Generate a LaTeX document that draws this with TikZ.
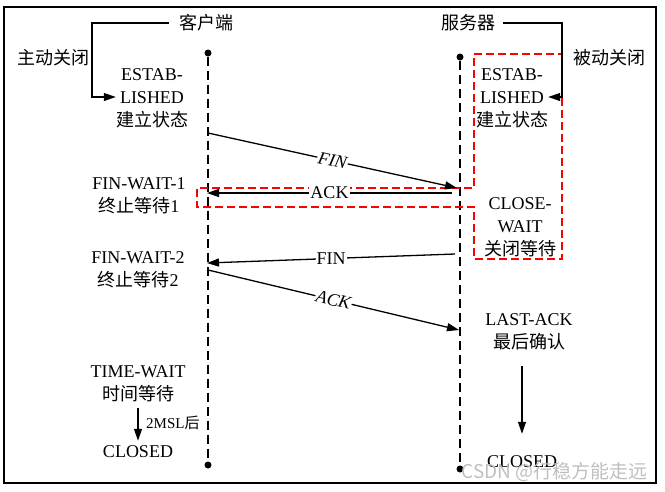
\documentclass[tikz,border=0pt]{standalone}
\usepackage{fontspec}
\setmainfont{Liberation Serif}
\newfontfamily\cjk{Noto Sans CJK SC}
\newcommand{\zh}[1]{{\cjk #1}}
\usetikzlibrary{arrows.meta}

\begin{document}
\begin{tikzpicture}[x=1pt, y=-1pt,
        state/.style={align=center, inner sep=0pt, font=\fontsize{18}{23}\selectfont},
        life/.style={dash pattern=on 9pt off 5pt, line width=1.1pt},
        dot/.style={circle, fill, inner sep=0pt, minimum size=7pt},
        msg/.style={-{Triangle[length=12pt,width=8pt]}, line width=1.3pt},
        lbl/.style={fill=white, inner xsep=1pt, inner ysep=0pt, font=\fontsize{18}{20}\selectfont},
        ilbl/.style={lbl, sloped, font=\fontsize{18}{20}\selectfont\itshape}]
        \useasboundingbox (0,0) rectangle (665,491);

        % Frame
        \draw[line width=2.5pt] (4,7) rectangle (656,483);

        % Lifelines
        \node[dot] (ctop) at (208,53) {};
        \node[dot] (cbot) at (208,465) {};
        \node[dot] (stop) at (460,57) {};
        \node[dot] (sbot) at (460,469) {};
        \draw[life] (ctop) -- (cbot);
        \draw[life] (stop) -- (sbot);

        % Titles
        \node[state] (client) at (206,23) {\zh{客户端}};
        \node[state] (server) at (468,23) {\zh{服务器}};
        \node[state] (active) at (53,58) {\zh{主动关闭}};
        \node[state] (passive) at (609,58) {\zh{被动关闭}};

        % Passive side region
        \draw[red, dash pattern=on 8pt off 4pt, line width=1.1pt]
            (474,54) -- (562,54) -- (562,259) -- (474,259) -- (474,207)
            -- (197,207) -- (197,188) -- (474,188) -- cycle;

        % Client states
        \node[state] (cest) at (152,98) {ESTAB-\\LISHED\\\zh{建立状态}};
        \node[state] (fw1) at (139,196) {FIN-WAIT-1\\\zh{终止等待}1};
        \node[state] (fw2) at (138,270) {FIN-WAIT-2\\\zh{终止等待}2};
        \node[state] (tw) at (138,384) {TIME-WAIT\\\zh{时间等待}};
        \node[state] (cclosed) at (138,452) {CLOSED};

        % Server states
        \node[state] (sest) at (512,98) {ESTAB-\\LISHED\\\zh{建立状态}};
        \node[state] (cw) at (520,227) {CLOSE-\\WAIT\\\zh{关闭等待}};
        \node[state] (la) at (529,332) {LAST-ACK\\\zh{最后确认}};
        \node[state] (sclosed) at (522,462) {CLOSED};

        % Title arrows
        \coordinate (cbend) at (92,97);
        \coordinate (sbend) at (562,97);
        \draw[msg] ([xshift=-10pt]client.west) -| (cbend) -- (cest.west |- cbend);
        \draw[msg] ([xshift=8pt]server.east) -| (sbend) -- (sest.east |- sbend);

        % Messages
        \coordinate (m1a) at (208,133);
        \coordinate (m1b) at (457,188);
        \coordinate (m2a) at (452,193);
        \coordinate (m2b) at (207,193);
        \coordinate (m3a) at (455,254);
        \coordinate (m3b) at (207,263);
        \coordinate (m4a) at (208,270);
        \coordinate (m4b) at (459,330);
        \draw[msg] (m1a) -- node[ilbl] {FIN} (m1b);
        \draw[msg] (m2a) -- node[lbl] {ACK} (m2b);
        \draw[msg] (m3a) -- node[lbl] {FIN} (m3b);
        \draw[msg] (m4a) -- node[ilbl] {ACK} (m4b);

        % Closing steps
        \draw[msg, shorten <=6pt, shorten >=5pt] (tw.south) -- (cclosed.north);
        \node[anchor=west, inner sep=0pt, font=\fontsize{15}{17}\selectfont] (msl) at (146,423) {2MSL\zh{后}};
        \draw[msg, shorten <=16pt, shorten >=22pt] (la.south -| sclosed.north) -- (sclosed.north);

        % Watermark
        \node[anchor=east, inner sep=0pt, text=gray!50, font=\cjk\fontsize{19}{20}\selectfont] (mark) at (648,472) {CSDN @行稳方能走远};
\end{tikzpicture}
\end{document}
